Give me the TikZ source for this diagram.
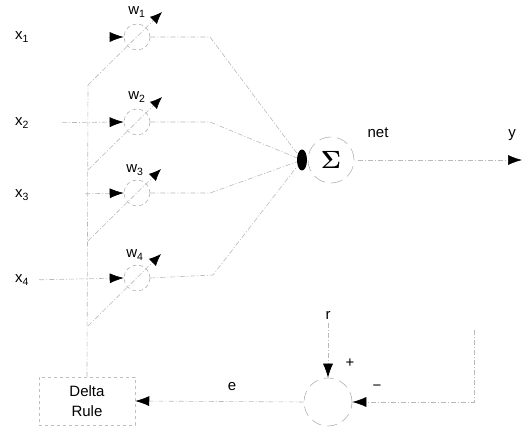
\documentclass[tikz,border=0pt]{standalone}
\usepackage[no-math]{fontspec}
\setmainfont{Liberation Sans}
\usetikzlibrary{arrows.meta,shapes.geometric}

\tikzset{
  faint/.style={draw=gray!55, line width=0.6pt,
    dash pattern=on 5pt off 2pt on 1pt off 2pt},
  tipped/.style={faint, -{Latex[length=14pt,width=10pt,color=black]}},
  tuner/.style={faint, -{Latex[length=12pt,width=10pt,color=black]}},
  weight/.style={circle, minimum size=26pt, inner sep=0pt, draw=gray!60,
    line width=0.6pt, dash pattern=on 4pt off 3pt},
  lbl/.style={font=\fontsize{15}{18}\selectfont, inner sep=0pt},
}

\begin{document}
\begin{tikzpicture}[x={(1pt,0pt)}, y={(0pt,-1pt)}]
\useasboundingbox (0,0) rectangle (523,427);

% input labels
\node[lbl] (x1) at (22,37)  {x\textsubscript{1}};
\node[lbl] (x2) at (22,123) {x\textsubscript{2}};
\node[lbl] (x3) at (22,195) {x\textsubscript{3}};
\node[lbl] (x4) at (22,280) {x\textsubscript{4}};

% adjustable weights
\node[weight] (c1) at (137,37)  {};
\node[weight] (c2) at (137,122) {};
\node[weight] (c3) at (137,193) {};
\node[weight] (c4) at (137,278) {};
\node[lbl] (w1) at (137,12)  {w\textsubscript{1}};
\node[lbl] (w2) at (137,97)  {w\textsubscript{2}};
\node[lbl] (w3) at (135,170) {w\textsubscript{3}};
\node[lbl] (w4) at (135,255) {w\textsubscript{4}};

% summing junction
\node[ellipse, fill=black, minimum width=10pt, minimum height=21pt, inner sep=0pt] (dot) at (302,160) {};
\node[circle, minimum size=46pt, inner sep=0pt, draw=gray!60, line width=0.6pt,
      dash pattern=on 12pt off 6pt] (sum) at (331,160)
      {\fontsize{26}{28}\selectfont$\mathbf{\Sigma}$};
\node[lbl] (net) at (378,133) {net};
\node[lbl] (y) at (512,135) {y};
\coordinate (yend) at (522,160);

% comparator
\node[circle, minimum size=48pt, inner sep=0pt, draw=gray!60, line width=0.6pt,
      dash pattern=on 10pt off 6pt] (cmp) at (328,402) {};
\node[lbl] (r) at (328,315) {r};
\node[lbl] (plus) at (350,363) {+};
\node[lbl] (minus) at (377,388) {\textminus};
\node[lbl] (e) at (232,387) {e};
\coordinate (fb) at (474,330);
\coordinate (fbc) at (474,402);

% delta rule block
\node[lbl, draw=gray!50, line width=0.5pt, dash pattern=on 3pt off 3pt,
      minimum width=96pt, minimum height=48pt, align=center,
      font=\fontsize{15}{20}\selectfont] (delta) at (87,401) {Delta\\Rule};

% bends and taps
\coordinate (k1) at (210,37);
\coordinate (k2) at (210,122);
\coordinate (k3) at (210,193);
\coordinate (k4) at (213,275);
\coordinate (b1) at (88,85);
\coordinate (b2) at (88,170);
\coordinate (b3) at (88,241);
\coordinate (b4) at (88,326);
\coordinate (t1) at (162,12);
\coordinate (t2) at (162,97);
\coordinate (t3) at (161,169);
\coordinate (t4) at (161,254);

% inputs into the weights
\draw[tipped, shorten <=80pt] (x1.east) -- (c1.west);
\draw[tipped, shorten <=33pt] (x2.east) -- (c2.west);
\draw[tipped, shorten <=56pt] (x3.east) -- (c3.west);
\draw[tipped, shorten <=10pt] (x4.east) -- (c4.west);

% weighted signals into the sum
\draw[faint] (c1.east) -- (k1) -- (dot);
\draw[faint] (c2.east) -- (k2) -- (dot);
\draw[faint] (c3.east) -- (k3) -- (dot);
\draw[faint] (c4.east) -- (k4) -- (dot);

% output
\draw[tipped, shorten <=4pt] (sum.east) -- (yend);

% weight adjustment bus
\draw[faint] (delta.north) -- (b1);
\draw[tuner] (b1) -- (t1);
\draw[tuner] (b2) -- (t2);
\draw[tuner] (b3) -- (t3);
\draw[tuner] (b4) -- (t4);

% error path
\draw[tipped] (r.south) ++(0,4) -- (cmp.north);
\draw[tipped] (fb) -- (fbc) -- (cmp.east);
\draw[tipped] (cmp.west) -- (delta.east);
\end{tikzpicture}
\end{document}
